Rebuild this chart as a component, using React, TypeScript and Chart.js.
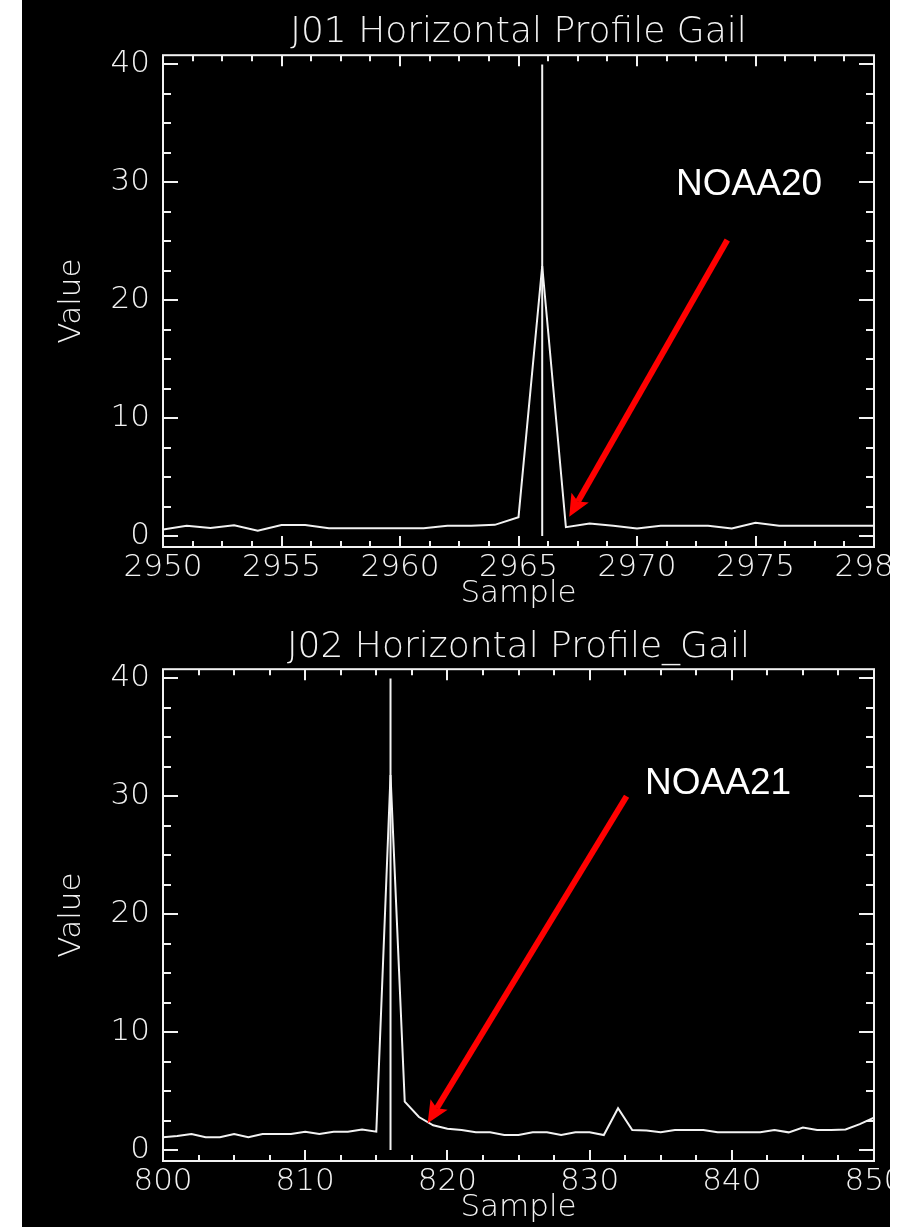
import React, { useEffect, useRef } from 'react';
import { Chart, registerables } from 'chart.js';

Chart.register(...registerables);

// ---------- data ----------
const j01Samples = [
  2950, 2951, 2952, 2953, 2954, 2955, 2956, 2957, 2958, 2959, 2960,
  2961, 2962, 2963, 2964, 2965, 2966, 2967, 2968, 2969, 2970,
  2971, 2972, 2973, 2974, 2975, 2976, 2977, 2978, 2979, 2980,
];
const j01Values = [
  0.55, 0.87, 0.68, 0.92, 0.45, 0.93, 0.93, 0.67, 0.67, 0.67, 0.67,
  0.67, 0.88, 0.88, 0.95, 1.6, 22.9, 0.75, 1.07, 0.87, 0.65,
  0.87, 0.87, 0.87, 0.65, 1.13, 0.87, 0.87, 0.87, 0.87, 0.87,
];
const j01Marker = 2966;

const j02Samples = [
  800, 801, 802, 803, 804, 805, 806, 807, 808, 809, 810,
  811, 812, 813, 814, 815, 816, 817, 818, 819, 820,
  821, 822, 823, 824, 825, 826, 827, 828, 829, 830,
  831, 832, 833, 834, 835, 836, 837, 838, 839, 840,
  841, 842, 843, 844, 845, 846, 847, 848, 849, 850,
];
const j02Values = [
  1.08, 1.2, 1.36, 1.08, 1.08, 1.36, 1.08, 1.36, 1.36, 1.36, 1.56,
  1.36, 1.56, 1.56, 1.75, 1.56, 31.8, 4.1, 2.8, 2.1, 1.8,
  1.7, 1.5, 1.5, 1.27, 1.27, 1.5, 1.5, 1.27, 1.5, 1.5,
  1.27, 3.55, 1.7, 1.65, 1.5, 1.7, 1.7, 1.7, 1.5, 1.5,
  1.5, 1.5, 1.7, 1.5, 1.9, 1.7, 1.7, 1.75, 2.2, 2.75,
];
const j02Marker = 816;

const markerRange = [0, 40];

const j01MajorX = [2950, 2955, 2960, 2965, 2970, 2975, 2980];
const j02MajorX = [800, 810, 820, 830, 840, 850];
const majorY = [0, 10, 20, 30, 40];
const minorDivisions = 4;

const yRange = [-0.93, 40.78];

const j01Title = 'J01 Horizontal Profile Gail';
const j02Title = 'J02 Horizontal Profile_Gail';
const xTitle = 'Sample';
const yTitle = 'Value';

const j01Note = { text: 'NOAA20', textAt: [2971.65, 29.8], from: [2973.81, 25.1], to: [2967.14, 1.64] };
const j02Note = { text: 'NOAA21', textAt: [833.9, 31.1], from: [832.6, 30.0], to: [818.61, 2.27] };

// ---------- styles ----------
const FG = '#f2f2f2';
const FONT = '"DejaVu Sans", "Liberation Sans", sans-serif';
const CANVAS_W = 868;

function withMinor(major: number[]) {
  const out: number[] = [];
  for (let i = 0; i < major.length; i++) {
    out.push(major[i]);
    if (i < major.length - 1) {
      const step = (major[i + 1] - major[i]) / minorDivisions;
      for (let k = 1; k < minorDivisions; k++) out.push(major[i] + k * step);
    }
  }
  return out;
}

function makePlugin(majorX: number[], note: any) {
  return {
    id: 'idlFrame',
    beforeDatasetsDraw(chart: any) {
      const { ctx, chartArea: a, scales } = chart;
      const x = scales.x, y = scales.y;
      ctx.save();
      ctx.strokeStyle = FG;
      ctx.lineWidth = 2;
      ctx.strokeRect(a.left, a.top, a.right - a.left, a.bottom - a.top);
      ctx.beginPath();
      x.ticks.forEach((t: any) => {
        const px = Math.round(x.getPixelForValue(t.value));
        const len = majorX.includes(t.value) ? 11 : 6;
        ctx.moveTo(px, a.bottom); ctx.lineTo(px, a.bottom - len);
        ctx.moveTo(px, a.top); ctx.lineTo(px, a.top + len);
      });
      y.ticks.forEach((t: any) => {
        const py = Math.round(y.getPixelForValue(t.value));
        const len = majorY.includes(t.value) ? 15 : 8;
        ctx.moveTo(a.left, py); ctx.lineTo(a.left + len, py);
        ctx.moveTo(a.right, py); ctx.lineTo(a.right - len, py);
      });
      ctx.stroke();
      ctx.restore();
    },
    afterDraw(chart: any) {
      const { ctx, scales } = chart;
      const x = scales.x, y = scales.y;
      const x0 = x.getPixelForValue(note.from[0]), y0 = y.getPixelForValue(note.from[1]);
      const x1 = x.getPixelForValue(note.to[0]), y1 = y.getPixelForValue(note.to[1]);
      const ang = Math.atan2(y1 - y0, x1 - x0);
      const headLen = 22, headHalf = 10;
      const bx = x1 - Math.cos(ang) * headLen * 0.8;
      const by = y1 - Math.sin(ang) * headLen * 0.8;
      ctx.save();
      ctx.strokeStyle = '#ff0000';
      ctx.fillStyle = '#ff0000';
      ctx.lineWidth = 6;
      ctx.beginPath();
      ctx.moveTo(x0, y0);
      ctx.lineTo(bx, by);
      ctx.stroke();
      const hx = x1 - Math.cos(ang) * headLen, hy = y1 - Math.sin(ang) * headLen;
      ctx.beginPath();
      ctx.moveTo(x1, y1);
      ctx.lineTo(hx + Math.sin(ang) * headHalf, hy - Math.cos(ang) * headHalf);
      ctx.lineTo(bx, by);
      ctx.lineTo(hx - Math.sin(ang) * headHalf, hy + Math.cos(ang) * headHalf);
      ctx.closePath();
      ctx.fill();
      ctx.fillStyle = '#ffffff';
      ctx.font = '37px "Liberation Sans", Arial, sans-serif';
      ctx.textAlign = 'left';
      ctx.textBaseline = 'middle';
      ctx.fillText(note.text, x.getPixelForValue(note.textAt[0]), y.getPixelForValue(note.textAt[1]));
      ctx.restore();
    },
  };
}

function buildConfig(p: any): any {
  const tickFont = { family: FONT, size: 31, weight: '200', lineHeight: 1.2 };
  const xTicks = withMinor(p.majorX);
  const yTicks = withMinor(majorY);
  return {
    type: 'line',
    data: {
      datasets: [
        {
          data: p.samples.map((s: number, i: number) => ({ x: s, y: p.values[i] })),
          borderColor: FG,
          borderWidth: 2,
          pointRadius: 0,
          tension: 0,
        },
        {
          data: [{ x: p.marker, y: markerRange[0] }, { x: p.marker, y: markerRange[1] }],
          borderColor: FG,
          borderWidth: 2,
          pointRadius: 0,
        },
      ],
    },
    options: {
      animation: false,
      responsive: false,
      devicePixelRatio: 1,
      events: [],
      layout: { padding: { left: 0, right: 16, top: 0, bottom: 0 } },
      plugins: {
        legend: { display: false },
        tooltip: { enabled: false },
        title: {
          display: true,
          text: p.title,
          color: FG,
          fullSize: false,
          font: { family: FONT, size: 36, weight: '200', lineHeight: 1.2 },
          padding: { top: p.titleTop, bottom: p.titleBottom },
        },
      },
      scales: {
        x: {
          type: 'linear',
          min: p.majorX[0],
          max: p.majorX[p.majorX.length - 1],
          grid: { display: false, drawTicks: false },
          border: { display: false },
          afterBuildTicks: (s: any) => { s.ticks = xTicks.map((v) => ({ value: v })); },
          afterFit: (s: any) => { s.height = 66; s.paddingLeft = 0; s.paddingRight = 0; },
          ticks: {
            autoSkip: false,
            maxRotation: 0,
            minRotation: 0,
            padding: 2,
            color: FG,
            font: tickFont,
            callback: (v: number) => (p.majorX.includes(v) ? String(v) : ''),
          },
          title: { display: true, text: xTitle, color: FG, font: tickFont, padding: { top: 0, bottom: 0 } },
        },
        y: {
          type: 'linear',
          min: yRange[0],
          max: yRange[1],
          grid: { display: false, drawTicks: false },
          border: { display: false },
          afterBuildTicks: (s: any) => { s.ticks = yTicks.map((v) => ({ value: v })); },
          afterFit: (s: any) => { s.width = 141; s.paddingTop = 0; s.paddingBottom = 0; },
          ticks: {
            autoSkip: false,
            padding: 13,
            color: FG,
            font: tickFont,
            callback: (v: number) => (majorY.includes(v) ? String(v) : ''),
          },
          title: { display: true, text: yTitle, color: FG, font: tickFont, padding: { top: 31, bottom: 0 } },
        },
      },
    },
    plugins: [makePlugin(p.majorX, p.note)],
  };
}

function ProfileChart(props: any) {
  const ref = useRef<HTMLCanvasElement>(null);
  useEffect(() => {
    const chart = new Chart(ref.current as HTMLCanvasElement, buildConfig(props));
    return () => chart.destroy();
  }, []);
  return (
    <canvas
      ref={ref}
      width={CANVAS_W}
      height={props.height}
      style={{ display: 'block', background: '#000', width: CANVAS_W, height: props.height }}
    />
  );
}

export default function App() {
  return (
    <div style={{ position: 'absolute', left: 22, top: 0, width: CANVAS_W, background: '#000' }}>
      <ProfileChart
        height={613}
        samples={j01Samples}
        values={j01Values}
        marker={j01Marker}
        majorX={j01MajorX}
        title={j01Title}
        titleTop={11}
        titleBottom={1}
        note={j01Note}
      />
      <ProfileChart
        height={614}
        samples={j02Samples}
        values={j02Values}
        marker={j02Marker}
        majorX={j02MajorX}
        title={j02Title}
        titleTop={13}
        titleBottom={0}
        note={j02Note}
      />
    </div>
  );
}
